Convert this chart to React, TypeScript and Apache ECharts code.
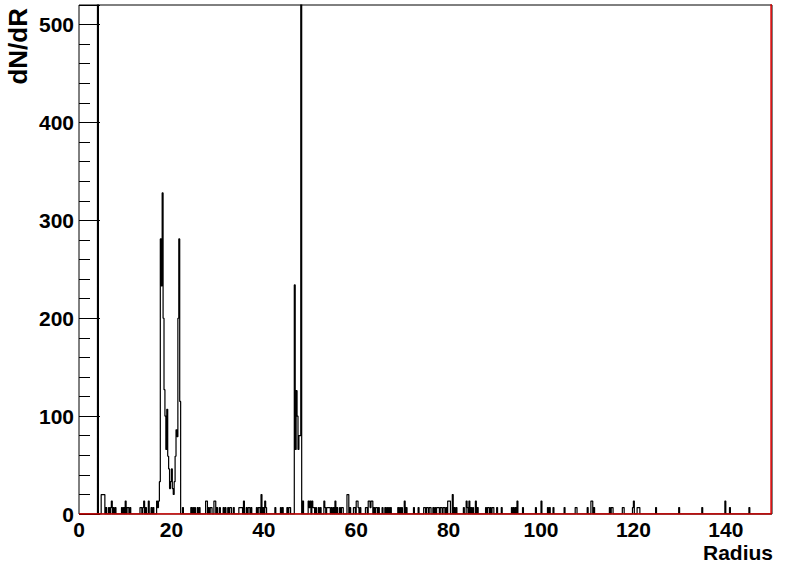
import React, { useEffect, useRef } from "react";
import * as echarts from "echarts";

// Axis definitions
const X_MIN = 0;
const X_MAX = 150;
const Y_MIN = 0;
const Y_MAX = 520;
const X_LABELS = [0, 20, 40, 60, 80, 100, 120, 140];
const Y_LABELS = [0, 100, 200, 300, 400, 500];
const BIN_WIDTH = 0.2;
const X_TITLE = "Radius";
const Y_TITLE = "dN/dR";

// Non-empty histogram bins: [bin low edge, dN/dR]
const HIST_BINS: [number, number][] = [
  [4.0, 600],
  [4.8, 19.8], [5.0, 19.8], [5.2, 19.8], [5.4, 19.8],
  [5.8, 6.6], [6.4, 6.6], [6.8, 6.6], [7.0, 13.2], [7.4, 6.6], [7.8, 6.6],
  [9.2, 6.6], [9.6, 6.6], [10.0, 13.2], [10.4, 6.6], [10.6, 6.6], [11.0, 6.6],
  [13.2, 6.6], [13.4, 6.6], [13.8, 6.6], [14.0, 13.2], [14.4, 6.6], [15.0, 13.2], [15.6, 6.6], [16.0, 6.6],
  [16.8, 13.2], [17.0, 6.6], [17.2, 13.2], [17.4, 33], [17.6, 281], [17.8, 233], [18.0, 328], [18.2, 200],
  [18.4, 127], [18.6, 100], [18.8, 66], [19.0, 107], [19.2, 59], [19.4, 46], [19.6, 26], [19.8, 33],
  [20.0, 46], [20.2, 26], [20.4, 20], [20.6, 33], [20.8, 59], [21.0, 86], [21.2, 79], [21.4, 200],
  [21.6, 281], [21.8, 115],
  [22.4, 6.6], [24.2, 6.6], [24.6, 6.6], [25.0, 6.6], [25.6, 6.6], [26.0, 6.6],
  [27.4, 13.2], [27.6, 13.2], [28.0, 6.6], [28.4, 6.6], [28.6, 6.6], [29.2, 13.2], [29.4, 13.2], [29.8, 6.6],
  [30.4, 6.6], [31.2, 6.6], [31.6, 6.6], [32.2, 6.6], [32.6, 6.6], [32.8, 6.6], [33.4, 6.6],
  [34.6, 6.6], [34.8, 6.6], [35.0, 6.6], [35.2, 6.6], [35.6, 13.2], [36.2, 6.6], [36.6, 6.6], [36.8, 6.6],
  [37.2, 6.6], [38.4, 6.6], [38.8, 6.6], [39.0, 6.6], [39.4, 19.8], [39.8, 6.6], [40.2, 13.2], [40.4, 6.6],
  [42.4, 6.6], [43.6, 6.6], [44.0, 6.6], [45.0, 6.6], [45.4, 6.6], [45.6, 6.6],
  [46.6, 234], [46.8, 66], [47.0, 126], [47.2, 100], [47.4, 66], [47.6, 80], [47.8, 80], [48.0, 600], [48.4, 13.2],
  [49.6, 13.2], [49.8, 6.6], [50.0, 13.2], [50.4, 13.2], [50.6, 6.6], [50.8, 6.6], [51.2, 6.6], [51.8, 6.6], [52.2, 6.6],
  [53.0, 13.2], [53.2, 6.6], [53.6, 6.6], [53.8, 6.6], [54.0, 6.6], [54.2, 6.6], [54.6, 6.6], [55.0, 6.6],
  [55.4, 13.2], [55.8, 6.6], [56.4, 6.6], [56.8, 6.6], [57.0, 6.6],
  [58.0, 19.8], [58.2, 19.8], [58.6, 6.6], [59.4, 6.6], [59.6, 6.6], [60.0, 13.2], [60.2, 13.2], [60.4, 6.6], [60.8, 6.6],
  [62.0, 6.6], [62.2, 6.6], [62.6, 13.2], [62.8, 13.2], [63.0, 6.6], [63.2, 13.2], [63.4, 13.2], [63.8, 6.6],
  [64.2, 6.6], [64.4, 6.6], [64.8, 6.6], [65.6, 6.6],
  [66.2, 6.6], [66.6, 6.6], [67.0, 6.6], [67.4, 6.6], [69.0, 6.6], [69.4, 6.6], [69.8, 6.6], [70.4, 13.2],
  [70.8, 6.6], [72.4, 6.6], [73.4, 6.6],
  [74.6, 6.6], [74.8, 6.6], [75.2, 6.6], [75.4, 6.6], [75.8, 6.6], [76.0, 6.6], [76.6, 6.6], [77.0, 6.6], [77.4, 6.6],
  [77.6, 6.6], [77.8, 6.6], [78.2, 6.6], [78.4, 6.6], [78.8, 6.6], [79.0, 6.6], [79.4, 6.6], [79.8, 13.2],
  [80.0, 13.2], [80.2, 13.2], [80.8, 19.8], [81.2, 6.6], [81.6, 6.6],
  [83.2, 6.6], [83.8, 13.2], [84.0, 6.6], [84.4, 13.2], [84.8, 6.6], [85.2, 6.6], [85.8, 13.2], [86.2, 6.6],
  [88.0, 6.6], [88.4, 6.6], [88.6, 6.6], [89.0, 6.6], [89.4, 6.6], [89.6, 6.6], [90.4, 6.6], [91.4, 6.6],
  [93.6, 6.6], [94.0, 6.6], [94.4, 6.6], [94.8, 13.2], [96.0, 6.6],
  [98.8, 6.6], [100.0, 13.2], [101.4, 6.6], [101.8, 6.6], [102.6, 6.6], [105.0, 6.6], [107.4, 6.6], [107.6, 6.6],
  [110.0, 6.6], [110.8, 13.2], [111.0, 13.2], [111.4, 6.6], [114.8, 6.6], [115.2, 6.6], [115.4, 6.6],
  [117.6, 6.6], [117.8, 6.6], [119.8, 6.6], [120.0, 13.2], [120.8, 6.6], [121.0, 6.6], [121.2, 6.6],
  [124.8, 6.6], [129.8, 6.6], [134.8, 6.6], [139.8, 13.2], [140.8, 6.6], [145.0, 6.6],
];

// Red reference line (zero level, closing at the upper edge)
const RED_LINE: [number, number][] = [
  [0, 0],
  [149.8, 0],
  [149.8, 1000],
];

const FONT = "'Liberation Sans', Arial, Helvetica, sans-serif";

function buildOutline(): [number, number][] {
  const nBins = Math.round((X_MAX - X_MIN) / BIN_WIDTH);
  const vals = new Array(nBins).fill(0);
  for (const [x, v] of HIST_BINS) {
    const i = Math.round((x - X_MIN) / BIN_WIDTH);
    if (i >= 0 && i < nBins) vals[i] = v;
  }
  const pts: [number, number][] = [];
  for (let i = 0; i < nBins; i++) {
    const lo = +(X_MIN + i * BIN_WIDTH).toFixed(3);
    const hi = +(X_MIN + (i + 1) * BIN_WIDTH).toFixed(3);
    pts.push([lo, vals[i]]);
    pts.push([hi, vals[i]]);
  }
  return pts;
}

export default function App() {
  const ref = useRef<HTMLDivElement>(null);

  useEffect(() => {
    if (!ref.current) return;
    const chart = echarts.init(ref.current, undefined, { renderer: "svg" });
    const option: any = {
      animation: false,
      backgroundColor: "#ffffff",
      grid: {
        left: 79,
        top: 5,
        right: 24,
        bottom: 58,
        show: true,
        borderColor: "#000",
        borderWidth: 1,
        backgroundColor: "transparent",
      },
      xAxis: {
        type: "value",
        min: X_MIN,
        max: X_MAX,
        interval: 20,
        axisLine: { show: false },
        axisTick: { show: false },
        splitLine: { show: false },
        axisLabel: {
          margin: 5,
          color: "#000",
          fontFamily: FONT,
          fontWeight: "bold",
          fontSize: 21,
          formatter: (v: number) => (X_LABELS.includes(v) ? String(v) : ""),
        },
      },
      yAxis: [
        {
          type: "value",
          min: Y_MIN,
          max: Y_MAX,
          interval: 100,
          axisLine: { show: false },
          axisTick: { show: true, inside: true, length: 21, lineStyle: { color: "#000", width: 1 } },
          splitLine: { show: false },
          axisLabel: {
            margin: 5,
            color: "#000",
            fontFamily: FONT,
            fontWeight: "bold",
            fontSize: 21,
            formatter: (v: number) => (Y_LABELS.includes(v) ? String(v) : ""),
          },
        },
        {
          type: "value",
          position: "left",
          min: Y_MIN,
          max: Y_MAX,
          interval: 20,
          axisLine: { show: false },
          axisTick: { show: true, inside: true, length: 11, lineStyle: { color: "#000", width: 1 } },
          splitLine: { show: false },
          axisLabel: { show: false },
        },
      ],
      series: [
        {
          type: "line",
          data: buildOutline(),
          yAxisIndex: 0,
          showSymbol: false,
          symbol: "none",
          clip: true,
          lineStyle: { color: "#000", width: 1.2 },
          z: 3,
        },
        {
          type: "line",
          data: RED_LINE,
          yAxisIndex: 0,
          showSymbol: false,
          symbol: "none",
          clip: true,
          lineStyle: { color: "#e00000", width: 1.5 },
          z: 4,
        },
      ],
      graphic: [
        {
          type: "text",
          x: 18,
          y: 8,
          rotation: Math.PI / 2,
          style: {
            text: Y_TITLE,
            fill: "#000",
            font: `bold 26px ${FONT}`,
            align: "right",
            verticalAlign: "middle",
          },
        },
        {
          type: "text",
          x: 773,
          y: 552,
          style: {
            text: X_TITLE,
            fill: "#000",
            font: `bold 21px ${FONT}`,
            align: "right",
            verticalAlign: "middle",
          },
        },
      ],
    };
    chart.setOption(option);
    return () => chart.dispose();
  }, []);

  return (
    <div
      ref={ref}
      style={{ position: "fixed", left: 0, top: 0, width: 796, height: 572, background: "#fff" }}
    />
  );
}
